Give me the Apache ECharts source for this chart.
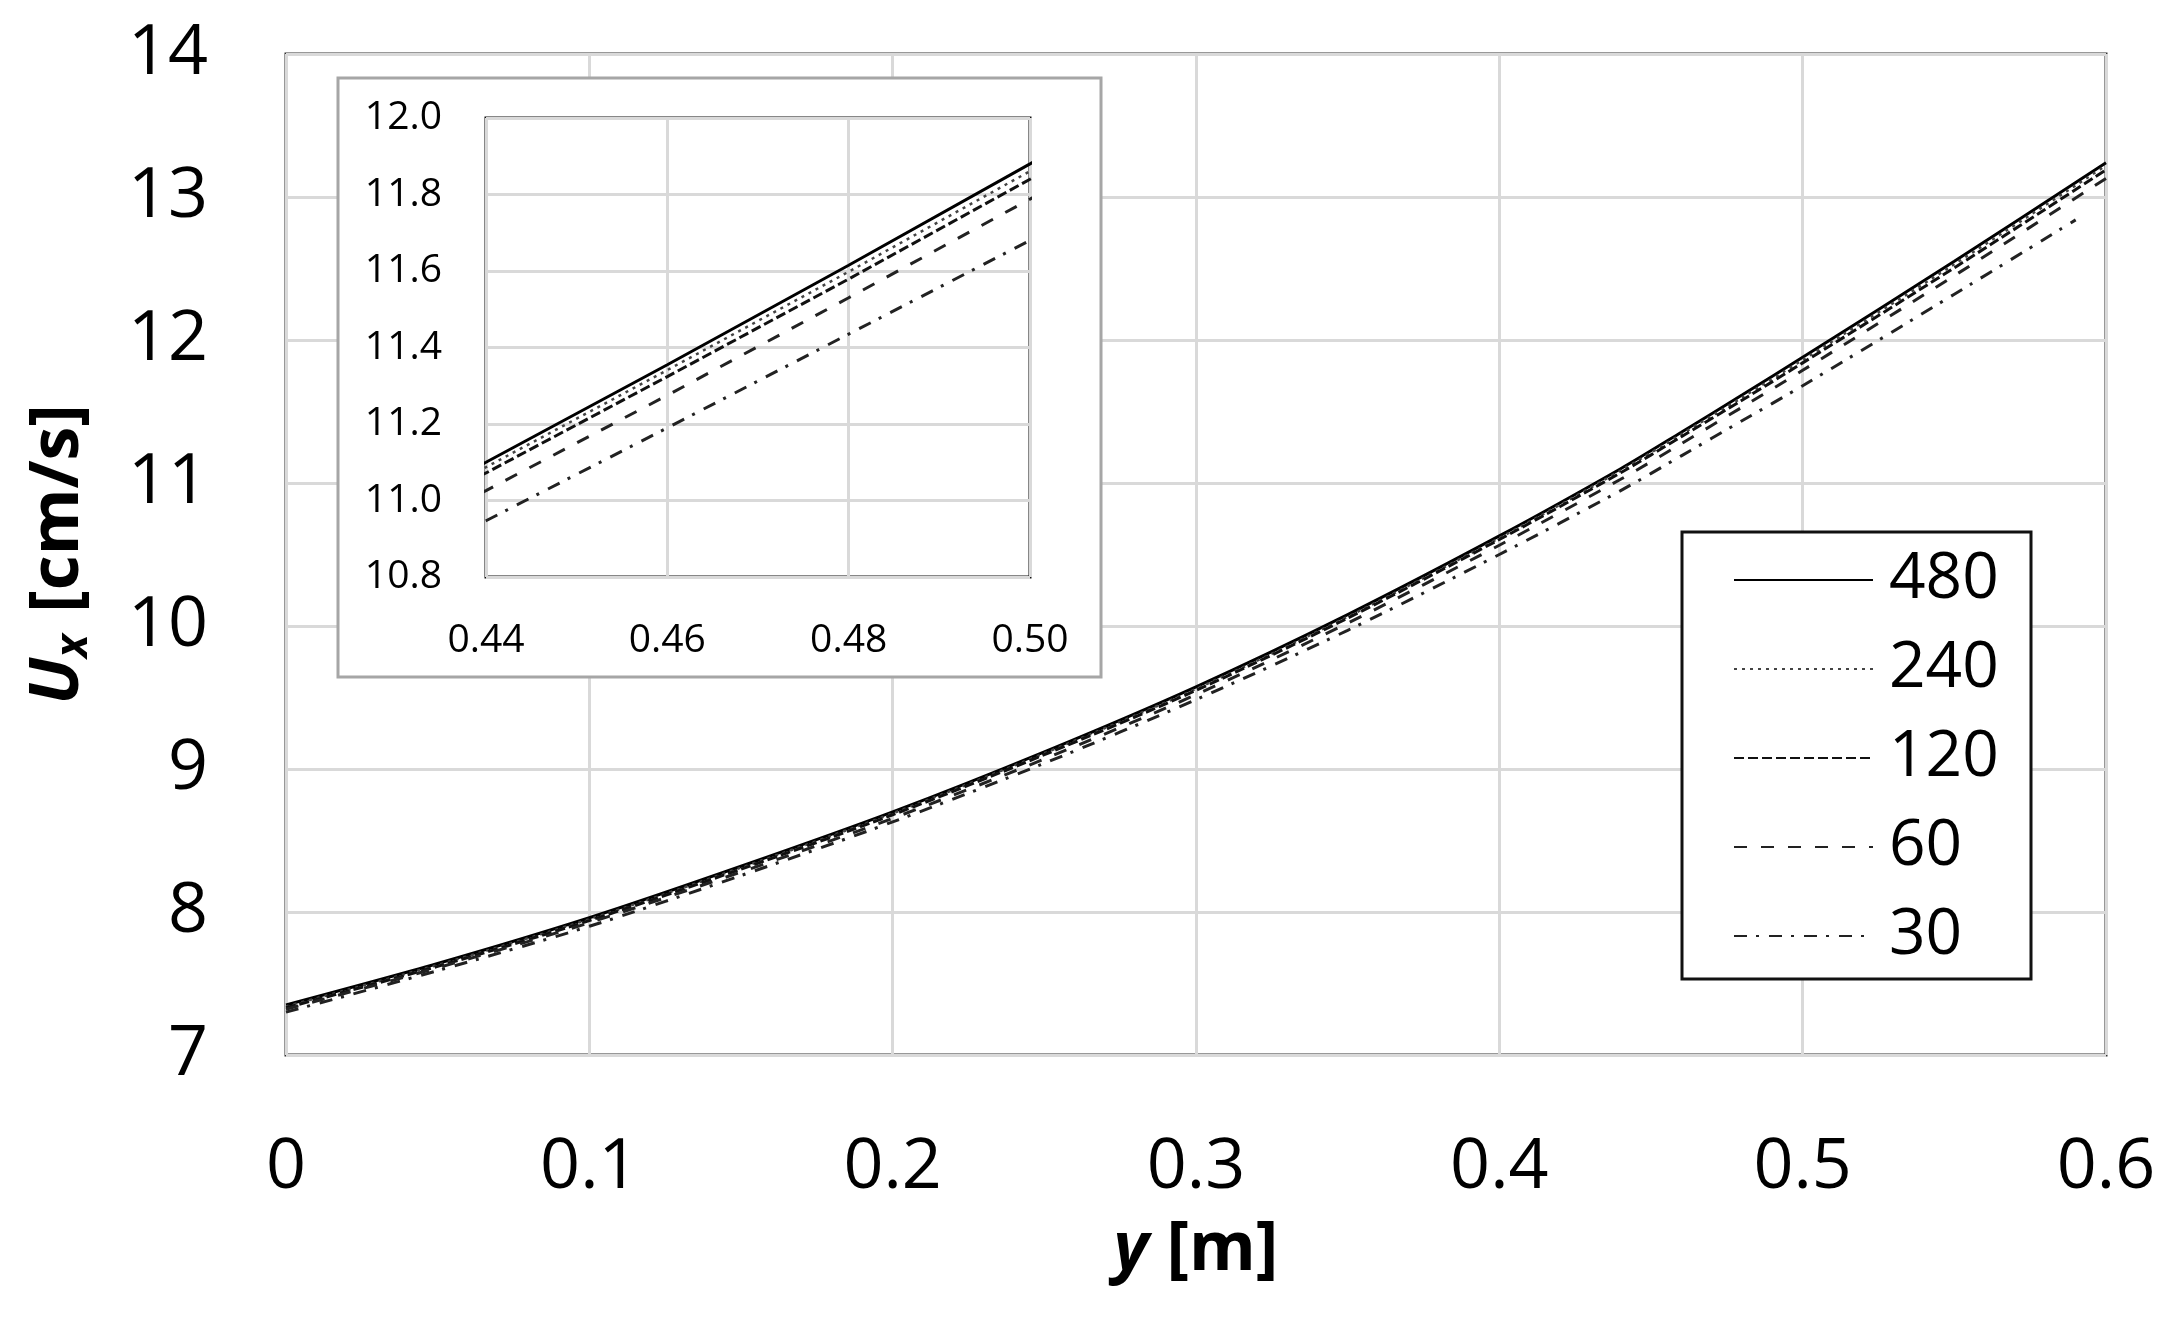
<!DOCTYPE html>
<html lang="en">
<head>
    <meta charset="UTF-8">
    <title>Ux profile</title>
    <script src="https://cdn.jsdelivr.net/npm/echarts@6/dist/echarts.min.js"></script>
    <style>
        body { margin: 0; background: #fff; }
        #main { width: 2181px; height: 1328px; }
    </style>
</head>
<body>
    <div id="main"></div>
<script>
    // y positions [m]
    var yPos = [0, 0.05, 0.1, 0.15, 0.2, 0.25, 0.3, 0.35, 0.4, 0.44, 0.46, 0.48, 0.5, 0.55, 0.6];
    // the 30-cell line stops a bit before the wall
    var yPos30 = [0, 0.05, 0.1, 0.15, 0.2, 0.25, 0.3, 0.35, 0.4, 0.44, 0.46, 0.48, 0.5, 0.55, 0.59];

    // Ux [cm/s] for each resolution
    var u480 = [7.35, 7.64, 7.96, 8.32, 8.70, 9.12, 9.575, 10.08, 10.63, 11.10, 11.355, 11.615, 11.88, 12.55, 13.24];
    var u240 = [7.34, 7.63, 7.95, 8.31, 8.69, 9.11, 9.56, 10.065, 10.615, 11.087, 11.341, 11.598, 11.861, 12.53, 13.22];
    var u120 = [7.33, 7.62, 7.94, 8.30, 8.68, 9.10, 9.55, 10.055, 10.605, 11.072, 11.324, 11.579, 11.84, 12.505, 13.19];
    var u60 = [7.32, 7.61, 7.925, 8.28, 8.655, 9.07, 9.52, 10.02, 10.565, 11.026, 11.275, 11.53, 11.788, 12.45, 13.13];
    var u30 = [7.30, 7.59, 7.90, 8.255, 8.63, 9.04, 9.485, 9.97, 10.50, 10.947, 11.19, 11.435, 11.68, 12.32, 12.84];

    var names = ['480', '240', '120', '60', '30'];

    var xTicks = { min: 0, max: 0.6, step: 0.1 };
    var yTicks = { min: 7, max: 14, step: 1 };
    var xTicksInset = { min: 0.44, max: 0.5, step: 0.02 };
    var yTicksInset = { min: 10.8, max: 12, step: 0.2 };

    function pairs(xs, ys) {
        var out = [];
        for (let i = 0; i < ys.length; i++) {
            out.push([xs[i], ys[i]]);
        }
        return out;
    }

    var font = 'Open Sans';
    var lineStyles = [
        { color: '#000', width: 3, type: 'solid' },
        { color: '#444', width: 2.5, type: [3, 5] },
        { color: '#111', width: 3, type: [10, 4] },
        { color: '#222', width: 3, type: [13, 14] },
        { color: '#222', width: 3, type: [13, 9, 3, 10] }
    ];
    var allData = [
        pairs(yPos, u480),
        pairs(yPos, u240),
        pairs(yPos, u120),
        pairs(yPos, u60),
        pairs(yPos30, u30)
    ];

    var series = [];
    for (let k = 0; k < 2; k++) {
        for (let i = 0; i < names.length; i++) {
            series.push({
                name: names[i],
                type: 'line',
                xAxisIndex: k,
                yAxisIndex: k,
                symbol: 'none',
                smooth: k === 0 ? 0.3 : false,
                color: '#000',
                lineStyle: lineStyles[i],
                z: k === 0 ? 2 : 12,
                data: allData[i]
            });
        }
    }

    var gridLine = { show: true, lineStyle: { color: '#d9d9d9', width: 3 } };

    var chart = echarts.init(document.getElementById('main'));
    var option = {
        animation: false,
        backgroundColor: '#fff',
        textStyle: { fontFamily: font },
        graphic: [
            {
                type: 'rect',
                z: 10,
                shape: { x: 338, y: 78, width: 763, height: 599 },
                style: { fill: '#fff', stroke: '#a6a6a6', lineWidth: 3 }
            }
        ],
        grid: [
            { left: 286, top: 54, width: 1820, height: 1001, show: true, borderColor: '#333', borderWidth: 3 },
            { left: 486, top: 118, width: 544, height: 459, show: true, borderColor: '#111', borderWidth: 3, z: 11 }
        ],
        xAxis: [
            {
                type: 'value',
                gridIndex: 0,
                min: xTicks.min,
                max: xTicks.max,
                interval: xTicks.step,
                name: '{i|y} [m]',
                nameLocation: 'middle',
                nameGap: 162,
                nameTextStyle: {
                    fontFamily: font, fontSize: 68, fontWeight: 'bold', color: '#000',
                    rich: { i: { fontFamily: font, fontSize: 68, fontWeight: 'bold', fontStyle: 'italic', color: '#000' } }
                },
                axisLine: { show: false },
                axisTick: { show: false },
                splitLine: gridLine,
                axisLabel: {
                    fontSize: 70, color: '#000', fontFamily: font, margin: 78,
                    formatter: function (v) { return v === 0 ? '0' : v.toFixed(1); }
                }
            },
            {
                type: 'value',
                gridIndex: 1,
                z: 11,
                min: xTicksInset.min,
                max: xTicksInset.max,
                interval: xTicksInset.step,
                axisLine: { show: false },
                axisTick: { show: false },
                splitLine: gridLine,
                axisLabel: {
                    fontSize: 39, color: '#000', fontFamily: font, margin: 44,
                    formatter: function (v) { return v.toFixed(2); }
                }
            }
        ],
        yAxis: [
            {
                type: 'value',
                gridIndex: 0,
                min: yTicks.min,
                max: yTicks.max,
                interval: yTicks.step,
                name: '{u|U}{s|x} [cm/s]',
                nameLocation: 'middle',
                nameGap: 190,
                nameTextStyle: {
                    fontFamily: font, fontSize: 68, fontWeight: 'bold', color: '#000',
                    rich: {
                        u: { fontFamily: font, fontSize: 68, fontWeight: 'bold', fontStyle: 'italic', color: '#000' },
                        s: { fontFamily: font, fontSize: 44, fontWeight: 'bold', fontStyle: 'italic', color: '#000', verticalAlign: 'bottom', padding: [30, 4, 0, 0] }
                    }
                },
                axisLine: { show: false },
                axisTick: { show: false },
                splitLine: gridLine,
                axisLabel: { fontSize: 70, color: '#000', fontFamily: font, margin: 78 }
            },
            {
                type: 'value',
                gridIndex: 1,
                z: 11,
                min: yTicksInset.min,
                max: yTicksInset.max,
                interval: yTicksInset.step,
                axisLine: { show: false },
                axisTick: { show: false },
                splitLine: gridLine,
                axisLabel: {
                    fontSize: 39, color: '#000', fontFamily: font, margin: 44,
                    formatter: function (v) { return v.toFixed(1); }
                }
            }
        ],
        legend: {
            data: names,
            orient: 'vertical',
            left: 1682,
            top: 532,
            padding: [13, 22, 8, 51],
            borderColor: '#111',
            borderWidth: 3,
            backgroundColor: '#fff',
            itemWidth: 139,
            itemHeight: 20,
            itemGap: 19,
            itemStyle: { opacity: 0 },
            textStyle: {
                fontFamily: font, fontSize: 64, color: '#000',
                lineHeight: 70, width: 120, padding: [0, 0, 0, 11]
            }
        },
        series: series
    };
    chart.setOption(option);
</script>
</body>
</html>
